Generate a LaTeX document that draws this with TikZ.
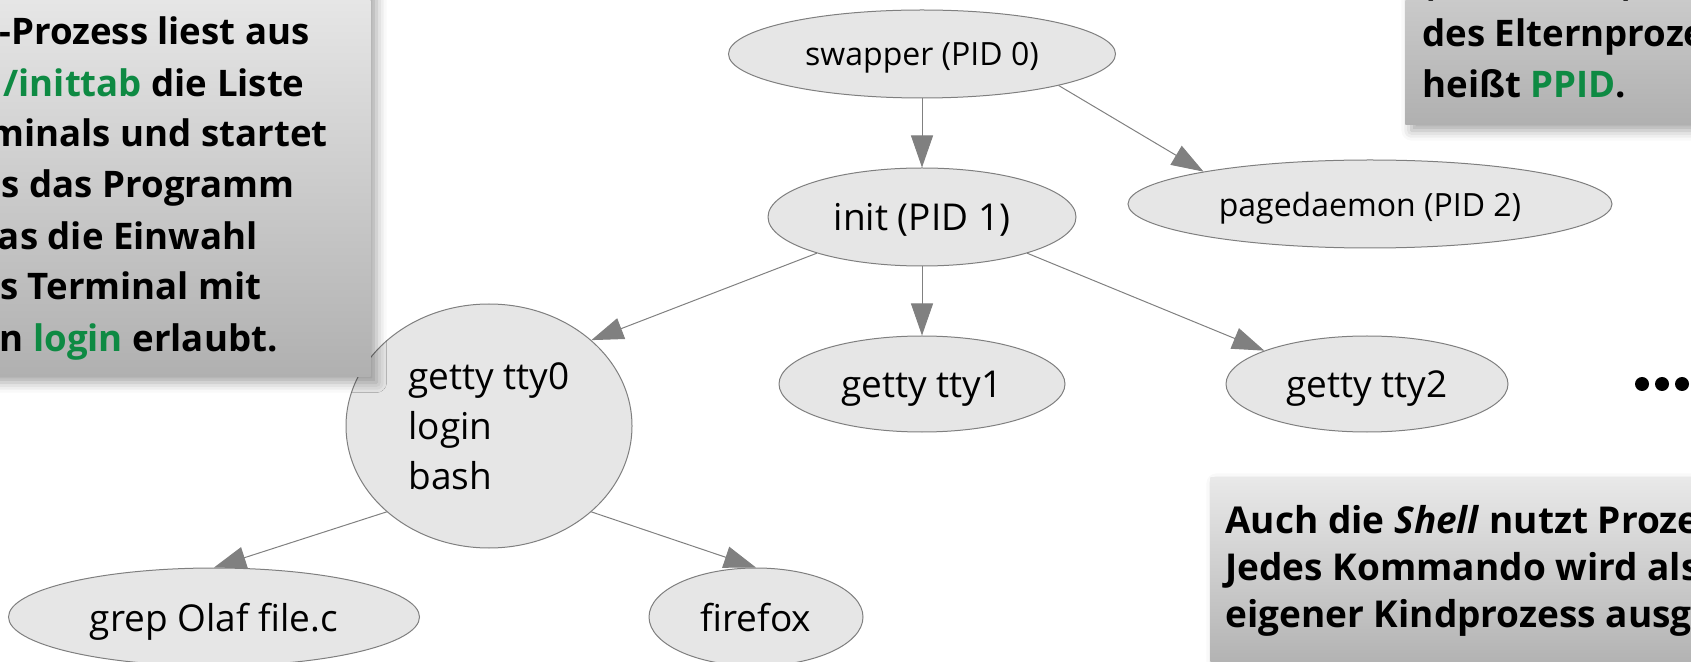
\documentclass[tikz,border=0pt]{standalone}
\usepackage{fontspec}
\setmainfont{Open Sans}
\usetikzlibrary{shapes.geometric,arrows.meta,shadows.blur}

\definecolor{procfill}{HTML}{E6E6E6}
\definecolor{procline}{HTML}{7F7F7F}
\definecolor{linkgray}{HTML}{808080}
\definecolor{boxtop}{HTML}{E9E9E9}
\definecolor{boxbottom}{HTML}{B0B0B0}
\definecolor{keygreen}{HTML}{0E8A43}
\newcommand{\key}[1]{\textcolor{keygreen}{#1}}

\tikzset{
  proc/.style={ellipse, draw=procline, fill=procfill, line width=0.5pt, inner sep=0pt,
    text depth=0pt, font=\fontsize{18.5}{25}\selectfont},
  smallproc/.style={proc, font=\fontsize{16}{19}\selectfont},
  link/.style={draw=linkgray, line width=0.5pt, -{Triangle[length=16pt,width=11pt]}},
  notebox/.style={rectangle, inner sep=0pt, draw=none, top color=boxtop, bottom color=boxbottom,
    blur shadow={shadow xshift=3pt, shadow yshift=-3pt, shadow blur radius=5pt, shadow opacity=35}},
  notetext/.style={inner sep=0pt, font=\bfseries\fontsize{18.3}{25}\selectfont},
  shelltext/.style={notetext, font=\bfseries\fontsize{18.5}{23.5}\selectfont}
}

\begin{document}
\begin{tikzpicture}[x=0.5pt, y=-0.5pt]
\useasboundingbox (0,0) rectangle (1691,662);

% processes
\node[smallproc, minimum width=193.5pt, minimum height=44pt] (swapper) at (922,54) {swapper (PID 0)};
\node[proc, minimum width=154pt, minimum height=49pt] (init) at (922,217) {init (PID 1)};
\node[smallproc, minimum width=242pt, minimum height=44pt] (pagedaemon) at (1370,204) {pagedaemon (PID 2)};
\node[proc, minimum width=143pt, minimum height=122pt, align=left] (tty0) at (489,426) {getty tty0\\login\\bash};
\node[proc, minimum width=143pt, minimum height=48pt] (tty1) at (922,384) {getty tty1};
\node[proc, minimum width=141pt, minimum height=48pt] (tty2) at (1367,384) {getty tty2};
\node[proc, minimum width=205.5pt, minimum height=49pt] (grep) at (214,617) {grep Olaf file.c};
\node[proc, minimum width=107pt, minimum height=49pt] (firefox) at (756,617) {firefox};

\foreach \dx in {0,1,2}
  \fill (1642+20*\dx,384) circle (3.5pt);

% parent -> child
\draw[link] (swapper) -- (init);
\draw[link] (swapper.-13) -- (pagedaemon.169);
\draw[link] (init.199) -- (tty0.40);
\draw[link] (init) -- (tty1);
\draw[link] (init.-19) -- (tty2.162);
\draw[link] (tty0.220) -- (grep.north);
\draw[link] (tty0.-40) -- (firefox.north);

% notes
\node[notebox, anchor=south east, minimum width=195.5pt, minimum height=198.5pt] (initbox) at (371,377) {};
\node[notebox, anchor=south west, minimum width=157.5pt, minimum height=137.5pt] (ppidbox) at (1405,125) {};
\node[notebox, anchor=north west, minimum width=255pt, minimum height=97pt] (shellbox) at (1210,477) {};

\node[notetext, anchor=base east] (initnote1) at (310,45) {-Prozess liest aus};
\node[notetext, anchor=base east] (initnote2) at (305,97) {\key{/inittab} die Liste};
\node[notetext, anchor=base east] (initnote3) at (328,147) {minals und startet};
\node[notetext, anchor=base east] (initnote4) at (295,198) {s das Programm};
\node[notetext, anchor=base east] (initnote5) at (258,250) {as die Einwahl};
\node[notetext, anchor=base east] (initnote6) at (262,300) {s Terminal mit};
\node[notetext, anchor=base east] (initnote7) at (278,352) {n \key{login} erlaubt.};

\node[notetext, anchor=base west] (ppidnote1) at (1422,-4) {(Prozess-ID)};
\node[notetext, anchor=base west] (ppidnote2) at (1422,47) {des Elternprozesses};
\node[notetext, anchor=base west] (ppidnote3) at (1422,98) {heißt \key{PPID}.};

\node[shelltext, anchor=base west] (shellnote1) at (1225,533) {Auch die \textit{Shell} nutzt Prozesse.};
\node[shelltext, anchor=base west] (shellnote2) at (1225,580) {Jedes Kommando wird als};
\node[shelltext, anchor=base west] (shellnote3) at (1225,627) {eigener Kindprozess ausgeführt.};
\end{tikzpicture}
\end{document}
